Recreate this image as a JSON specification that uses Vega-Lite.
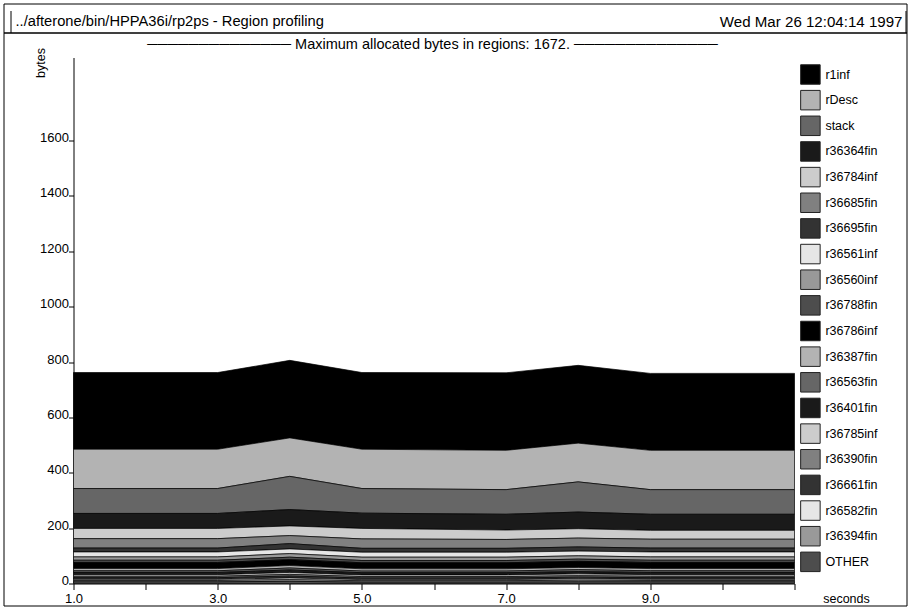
{
  "$schema": "https://vega.github.io/schema/vega-lite/v6.json",
  "autosize": {"type": "pad"},
  "padding": {"left": 2.5, "top": 2.5, "right": 0, "bottom": 0},
  "background": "#ffffff",
  "spacing": 0,
  "bounds": "flush",
  "config": {
    "font": "Liberation Sans",
    "view": {"stroke": "#000000", "strokeWidth": 1},
    "axis": {"grid": false, "domainColor": "#000000", "domainWidth": 1, "tickColor": "#000000", "labelColor": "#000000", "titleColor": "#000000", "labelFont": "Liberation Sans", "titleFont": "Liberation Sans", "titleFontWeight": "normal"},
    "legend": {"labelFont": "Liberation Sans"},
    "title": {"font": "Liberation Sans", "fontWeight": "normal", "color": "#000000"}
  },
  "vconcat": [
    {
      "width": 903,
      "height": 29,
      "resolve": {"axis": {"y": "independent"}},
      "layer": [
        {
          "data": {"values": [{"label": "../afterone/bin/HPPA36i/rp2ps - Region profiling"}]},
          "mark": {"type": "text", "align": "left", "baseline": "middle", "dx": 5, "fontSize": 14.7, "color": "#000000"},
          "encoding": {
            "x": {"datum": 0, "type": "quantitative", "scale": {"domain": [0, 1], "range": [7, 902]},
                  "axis": {"orient": "top", "offset": -7, "ticks": false, "labels": false, "title": null}},
            "y": {"datum": 0.5, "type": "quantitative", "scale": {"domain": [0, 1], "range": [29, 7]},
                  "axis": {"orient": "left", "offset": -7, "ticks": false, "labels": false, "title": null}},
            "text": {"field": "label"}
          }
        },
        {
          "data": {"values": [{"label": "Wed Mar 26 12:04:14 1997"}]},
          "mark": {"type": "text", "align": "right", "baseline": "middle", "dx": -3, "fontSize": 15.1, "color": "#000000"},
          "encoding": {
            "x": {"datum": 1, "type": "quantitative", "axis": null},
            "y": {"datum": 0.5, "type": "quantitative",
                  "axis": {"orient": "right", "offset": -1, "ticks": false, "labels": false, "title": null}},
            "text": {"field": "label"}
          }
        }
      ]
    },
    {
      "width": 903,
      "height": 573,
      "title": {
        "text": "────────────── Maximum allocated bytes in regions: 1672. ──────────────",
        "anchor": "middle",
        "frame": "group",
        "orient": "top",
        "fontSize": 14.5,
        "baseline": "middle",
        "offset": 0,
        "dx": -22.5,
        "dy": 27
      },
      "data": {"values": [
        {"t":1,"region":"r1inf","bytes":277},{"t":3,"region":"r1inf","bytes":277},{"t":4,"region":"r1inf","bytes":280},{"t":5,"region":"r1inf","bytes":277},{"t":7,"region":"r1inf","bytes":280},{"t":8,"region":"r1inf","bytes":281},{"t":9,"region":"r1inf","bytes":278},{"t":11,"region":"r1inf","bytes":278},
        {"t":1,"region":"rDesc","bytes":142},{"t":3,"region":"rDesc","bytes":142},{"t":4,"region":"rDesc","bytes":139},{"t":5,"region":"rDesc","bytes":142},{"t":7,"region":"rDesc","bytes":142},{"t":8,"region":"rDesc","bytes":140},{"t":9,"region":"rDesc","bytes":142},{"t":11,"region":"rDesc","bytes":142},
        {"t":1,"region":"stack","bytes":90},{"t":3,"region":"stack","bytes":90},{"t":4,"region":"stack","bytes":120},{"t":5,"region":"stack","bytes":89},{"t":7,"region":"stack","bytes":89},{"t":8,"region":"stack","bytes":109},{"t":9,"region":"stack","bytes":89},{"t":11,"region":"stack","bytes":89},
        {"t":1,"region":"r36364fin","bytes":54},{"t":3,"region":"r36364fin","bytes":54},{"t":4,"region":"r36364fin","bytes":59},{"t":5,"region":"r36364fin","bytes":55},{"t":7,"region":"r36364fin","bytes":57},{"t":8,"region":"r36364fin","bytes":60},{"t":9,"region":"r36364fin","bytes":58},{"t":11,"region":"r36364fin","bytes":58},
        {"t":1,"region":"r36784inf","bytes":37},{"t":3,"region":"r36784inf","bytes":37},{"t":4,"region":"r36784inf","bytes":35},{"t":5,"region":"r36784inf","bytes":38},{"t":7,"region":"r36784inf","bytes":34},{"t":8,"region":"r36784inf","bytes":34},{"t":9,"region":"r36784inf","bytes":32},{"t":11,"region":"r36784inf","bytes":32},
        {"t":1,"region":"r36685fin","bytes":34},{"t":3,"region":"r36685fin","bytes":34},{"t":4,"region":"r36685fin","bytes":29},{"t":5,"region":"r36685fin","bytes":34},{"t":7,"region":"r36685fin","bytes":32},{"t":8,"region":"r36685fin","bytes":32},{"t":9,"region":"r36685fin","bytes":32},{"t":11,"region":"r36685fin","bytes":32},
        {"t":1,"region":"r36695fin","bytes":14},{"t":3,"region":"r36695fin","bytes":14},{"t":4,"region":"r36695fin","bytes":19},{"t":5,"region":"r36695fin","bytes":14},{"t":7,"region":"r36695fin","bytes":14},{"t":8,"region":"r36695fin","bytes":15},{"t":9,"region":"r36695fin","bytes":14},{"t":11,"region":"r36695fin","bytes":14},
        {"t":1,"region":"r36561inf","bytes":18},{"t":3,"region":"r36561inf","bytes":18},{"t":4,"region":"r36561inf","bytes":17},{"t":5,"region":"r36561inf","bytes":18},{"t":7,"region":"r36561inf","bytes":18},{"t":8,"region":"r36561inf","bytes":17},{"t":9,"region":"r36561inf","bytes":18},{"t":11,"region":"r36561inf","bytes":18},
        {"t":1,"region":"r36560inf","bytes":12},{"t":3,"region":"r36560inf","bytes":12},{"t":4,"region":"r36560inf","bytes":13},{"t":5,"region":"r36560inf","bytes":12},{"t":7,"region":"r36560inf","bytes":12},{"t":8,"region":"r36560inf","bytes":12},{"t":9,"region":"r36560inf","bytes":12},{"t":11,"region":"r36560inf","bytes":12},
        {"t":1,"region":"r36788fin","bytes":8},{"t":3,"region":"r36788fin","bytes":8},{"t":4,"region":"r36788fin","bytes":9},{"t":5,"region":"r36788fin","bytes":8},{"t":7,"region":"r36788fin","bytes":8},{"t":8,"region":"r36788fin","bytes":8},{"t":9,"region":"r36788fin","bytes":8},{"t":11,"region":"r36788fin","bytes":8},
        {"t":1,"region":"r36786inf","bytes":22},{"t":3,"region":"r36786inf","bytes":22},{"t":4,"region":"r36786inf","bytes":21},{"t":5,"region":"r36786inf","bytes":22},{"t":7,"region":"r36786inf","bytes":22},{"t":8,"region":"r36786inf","bytes":22},{"t":9,"region":"r36786inf","bytes":22},{"t":11,"region":"r36786inf","bytes":22},
        {"t":1,"region":"r36387fin","bytes":8},{"t":3,"region":"r36387fin","bytes":8},{"t":4,"region":"r36387fin","bytes":9},{"t":5,"region":"r36387fin","bytes":8},{"t":7,"region":"r36387fin","bytes":8},{"t":8,"region":"r36387fin","bytes":8},{"t":9,"region":"r36387fin","bytes":8},{"t":11,"region":"r36387fin","bytes":8},
        {"t":1,"region":"r36563fin","bytes":6},{"t":3,"region":"r36563fin","bytes":6},{"t":4,"region":"r36563fin","bytes":7},{"t":5,"region":"r36563fin","bytes":6},{"t":7,"region":"r36563fin","bytes":6},{"t":8,"region":"r36563fin","bytes":7},{"t":9,"region":"r36563fin","bytes":6},{"t":11,"region":"r36563fin","bytes":6},
        {"t":1,"region":"r36401fin","bytes":8},{"t":3,"region":"r36401fin","bytes":8},{"t":4,"region":"r36401fin","bytes":9},{"t":5,"region":"r36401fin","bytes":8},{"t":7,"region":"r36401fin","bytes":8},{"t":8,"region":"r36401fin","bytes":8},{"t":9,"region":"r36401fin","bytes":8},{"t":11,"region":"r36401fin","bytes":8},
        {"t":1,"region":"r36785inf","bytes":6},{"t":3,"region":"r36785inf","bytes":6},{"t":4,"region":"r36785inf","bytes":7},{"t":5,"region":"r36785inf","bytes":6},{"t":7,"region":"r36785inf","bytes":6},{"t":8,"region":"r36785inf","bytes":7},{"t":9,"region":"r36785inf","bytes":6},{"t":11,"region":"r36785inf","bytes":6},
        {"t":1,"region":"r36390fin","bytes":5},{"t":3,"region":"r36390fin","bytes":5},{"t":4,"region":"r36390fin","bytes":6},{"t":5,"region":"r36390fin","bytes":5},{"t":7,"region":"r36390fin","bytes":5},{"t":8,"region":"r36390fin","bytes":5},{"t":9,"region":"r36390fin","bytes":5},{"t":11,"region":"r36390fin","bytes":5},
        {"t":1,"region":"r36661fin","bytes":6},{"t":3,"region":"r36661fin","bytes":6},{"t":4,"region":"r36661fin","bytes":7},{"t":5,"region":"r36661fin","bytes":6},{"t":7,"region":"r36661fin","bytes":6},{"t":8,"region":"r36661fin","bytes":6},{"t":9,"region":"r36661fin","bytes":6},{"t":11,"region":"r36661fin","bytes":6},
        {"t":1,"region":"r36582fin","bytes":4},{"t":3,"region":"r36582fin","bytes":4},{"t":4,"region":"r36582fin","bytes":6},{"t":5,"region":"r36582fin","bytes":4},{"t":7,"region":"r36582fin","bytes":4},{"t":8,"region":"r36582fin","bytes":5},{"t":9,"region":"r36582fin","bytes":4},{"t":11,"region":"r36582fin","bytes":4},
        {"t":1,"region":"r36394fin","bytes":5},{"t":3,"region":"r36394fin","bytes":5},{"t":4,"region":"r36394fin","bytes":6},{"t":5,"region":"r36394fin","bytes":5},{"t":7,"region":"r36394fin","bytes":5},{"t":8,"region":"r36394fin","bytes":6},{"t":9,"region":"r36394fin","bytes":5},{"t":11,"region":"r36394fin","bytes":5},
        {"t":1,"region":"OTHER","bytes":6},{"t":3,"region":"OTHER","bytes":6},{"t":4,"region":"OTHER","bytes":8},{"t":5,"region":"OTHER","bytes":5},{"t":7,"region":"OTHER","bytes":5},{"t":8,"region":"OTHER","bytes":6},{"t":9,"region":"OTHER","bytes":6},{"t":11,"region":"OTHER","bytes":6}
      ]},
      "transform": [
        {"calculate": "indexof(['r1inf','rDesc','stack','r36364fin','r36784inf','r36685fin','r36695fin','r36561inf','r36560inf','r36788fin','r36786inf','r36387fin','r36563fin','r36401fin','r36785inf','r36390fin','r36661fin','r36582fin','r36394fin','OTHER'], datum.region)", "as": "rank"}
      ],
      "mark": {"type": "area", "stroke": "#000000", "strokeWidth": 0.7, "interpolate": "linear"},
      "encoding": {
        "x": {
          "field": "t", "type": "quantitative",
          "scale": {"domain": [1, 11], "range": [70, 791], "nice": false, "zero": false},
          "axis": {
            "orient": "bottom", "offset": -22,
            "values": [1, 2, 3, 4, 5, 6, 7, 8, 9, 10, 11],
            "labelExpr": "datum.value % 2 == 1 && datum.value < 10 ? format(datum.value, '.1f') : ''",
            "labelFontSize": 13, "labelPadding": 3, "tickSize": 6, "labelOverlap": false, "labelFlush": false,
            "title": "seconds", "titleFontSize": 12.5, "titleX": 842.5, "titleY": 15, "titleBaseline": "middle", "titleAlign": "center"
          }
        },
        "y": {
          "field": "bytes", "type": "quantitative", "stack": "zero",
          "scale": {"domain": [0, 1900], "range": [551, 25], "nice": false},
          "axis": {
            "orient": "left", "offset": -70,
            "values": [0, 200, 400, 600, 800, 1000, 1200, 1400, 1600],
            "format": "d", "labelFontSize": 13, "labelPadding": 0, "tickSize": 5, "labelBaseline": "alphabetic", "labelOffset": 1,
            "title": "bytes", "titleFontSize": 12.5, "titleAngle": 270, "titleX": -33, "titleY": 15, "titleAlign": "right", "titleBaseline": "middle"
          }
        },
        "color": {
          "field": "region", "type": "nominal",
          "scale": {
            "domain": ["r1inf","rDesc","stack","r36364fin","r36784inf","r36685fin","r36695fin","r36561inf","r36560inf","r36788fin","r36786inf","r36387fin","r36563fin","r36401fin","r36785inf","r36390fin","r36661fin","r36582fin","r36394fin","OTHER"],
            "range": ["#000000","#b3b3b3","#666666","#1a1a1a","#cccccc","#808080","#333333","#e6e6e6","#999999","#4d4d4d","#000000","#b3b3b3","#666666","#1a1a1a","#cccccc","#808080","#333333","#e6e6e6","#999999","#4d4d4d"]
          },
          "legend": {
            "title": null, "orient": "none", "legendX": 796.4, "legendY": 60.5, "direction": "vertical",
            "symbolType": "square", "symbolSize": 380, "symbolStrokeColor": "#222222", "symbolStrokeWidth": 1,
            "labelFontSize": 12.5, "labelColor": "#000000", "labelOffset": 4.5, "rowPadding": 0.65, "padding": 0, "symbolLimit": 0
          }
        },
        "order": {"field": "rank", "type": "quantitative", "sort": "descending"}
      }
    }
  ]
}
